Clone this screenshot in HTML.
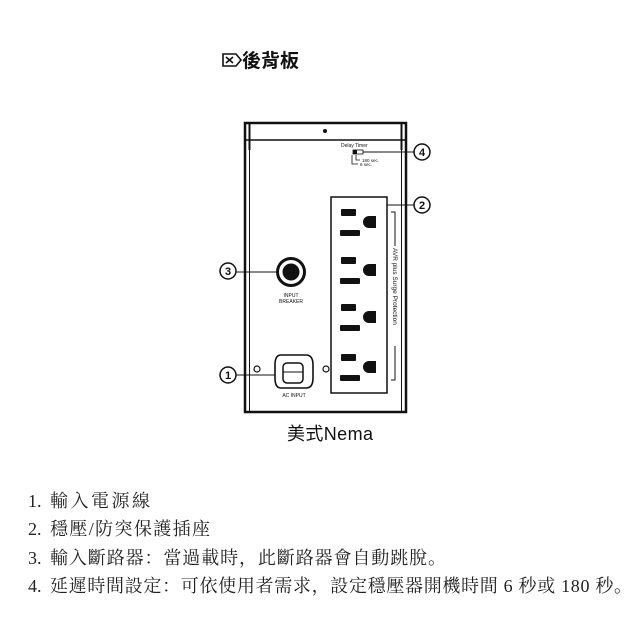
<!DOCTYPE html>
<html><head><meta charset="utf-8"><style>
html,body{margin:0;padding:0;background:#fff;}
svg{display:block;}
.cjk{font-family:"Liberation Serif","Noto Serif CJK SC","Noto Sans CJK TC",serif;}
.sans{font-family:"Liberation Sans","Noto Sans CJK TC",sans-serif;}
</style></head><body>
<svg width="640" height="640" viewBox="0 0 640 640" xmlns="http://www.w3.org/2000/svg">
<g stroke="#111" stroke-width="1.6" fill="none">
<path d="M223 54 H236 L241 60 L236 66 H223 Z"/>
<path d="M226 57 L233 63 M233 57 L226 63"/>
</g>
<text x="242" y="67" class="sans" font-size="19" font-weight="bold" fill="#111">後背板</text>

<g stroke="#111" fill="none">
<rect x="245" y="123" width="161" height="289" stroke-width="2.5"/>
<line x1="245" y1="140" x2="406" y2="140" stroke-width="1.5"/>
<line x1="249.5" y1="124" x2="249.5" y2="150" stroke-width="2"/>
<line x1="401.5" y1="124" x2="401.5" y2="150" stroke-width="2"/>
<line x1="249.5" y1="150" x2="249.5" y2="412" stroke-width="1"/>
<line x1="401.5" y1="150" x2="401.5" y2="412" stroke-width="1"/>
</g>
<circle cx="325" cy="131" r="2" fill="#111"/>

<text x="341" y="147" class="sans" font-size="5" fill="#111">Delay Timer</text>
<rect x="353" y="150" width="10" height="4" fill="#fff" stroke="#111" stroke-width="0.8"/>
<rect x="353" y="150" width="4" height="4" fill="#111"/>
<path d="M356 155 V160 H360 M352 155 V164 H358" stroke="#111" stroke-width="0.8" fill="none"/>
<text x="362" y="162" class="sans" font-size="4.5" fill="#111">180 sec.</text>
<text x="360" y="166" class="sans" font-size="4.5" fill="#111">6 sec.</text>
<line x1="363" y1="152" x2="414" y2="152" stroke="#111" stroke-width="1"/>

<rect x="331" y="197" width="56" height="196" fill="none" stroke="#111" stroke-width="1.5"/>
<g fill="#111">
<g id="o"><rect x="341" y="209" width="15" height="7" rx="1"/><rect x="340" y="230" width="20" height="6" rx="1"/><path d="M369 216 H376 V228 H369 A6 6 0 0 1 369 216 Z"/></g>
<use href="#o" y="48"/><use href="#o" y="95"/><use href="#o" y="145"/>
</g>
<path d="M391 212 H395 V380 H391" fill="none" stroke="#111" stroke-width="1"/>
<rect x="391" y="246" width="8" height="100" fill="#fff"/>
<text class="sans" font-size="6.5" fill="#111" transform="translate(393,248) rotate(90)">AVR plus Surge Protection</text>
<line x1="387" y1="205" x2="414" y2="205" stroke="#111" stroke-width="1"/>

<circle cx="291" cy="272" r="13.5" fill="#fff" stroke="#111" stroke-width="3"/>
<circle cx="291" cy="272" r="8.5" fill="#111"/>
<text x="291" y="297" class="sans" font-size="5" fill="#111" text-anchor="middle">INPUT</text>
<text x="291" y="303" class="sans" font-size="5" fill="#111" text-anchor="middle">BREAKER</text>
<line x1="236" y1="272" x2="276" y2="272" stroke="#111" stroke-width="1"/>

<path d="M281 355 H306 Q313 355 313 365 V378 Q313 388 306 388 H281 Q275 388 275 378 V365 Q275 355 281 355 Z" fill="#fff" stroke="#111" stroke-width="1.6"/>
<rect x="283" y="363" width="20" height="20" rx="4" fill="#fff" stroke="#111" stroke-width="1.5"/>
<line x1="283" y1="372" x2="303" y2="372" stroke="#111" stroke-width="1"/>
<circle cx="257" cy="369" r="3" fill="#fff" stroke="#111" stroke-width="1.2"/>
<circle cx="326" cy="369" r="3" fill="#fff" stroke="#111" stroke-width="1.2"/>
<text x="294" y="397" class="sans" font-size="5" fill="#111" text-anchor="middle">AC INPUT</text>
<line x1="236" y1="375" x2="275" y2="375" stroke="#111" stroke-width="1"/>

<g stroke="#111" stroke-width="1.5" fill="#fff">
<circle cx="228" cy="375" r="8"/><circle cx="228" cy="271" r="8"/>
<circle cx="422" cy="152" r="8"/><circle cx="422" cy="205" r="8"/>
</g>
<g class="sans" font-size="11" font-weight="bold" fill="#111" text-anchor="middle">
<text x="228" y="379">1</text><text x="228" y="275">3</text>
<text x="422" y="156">4</text><text x="422" y="209">2</text>
</g>

<text x="287" y="440" class="sans" font-size="18" fill="#111" textLength="86">美式Nema</text>

<g class="cjk" font-size="18" fill="#222">
<text x="28" y="507">1.</text><text x="50" y="507" textLength="100">輸入電源線</text>
<text x="28" y="535">2.</text><text x="50" y="535" textLength="160">穩壓/防突保護插座</text>
<text x="28" y="564">3.</text><text x="50" y="564" textLength="396">輸入斷路器：當過載時，此斷路器會自動跳脫。</text>
<text x="28" y="592">4.</text><text x="50" y="592" textLength="582">延遲時間設定：可依使用者需求，設定穩壓器開機時間 6 秒或 180 秒。</text>
</g>
</svg>
</body></html>
